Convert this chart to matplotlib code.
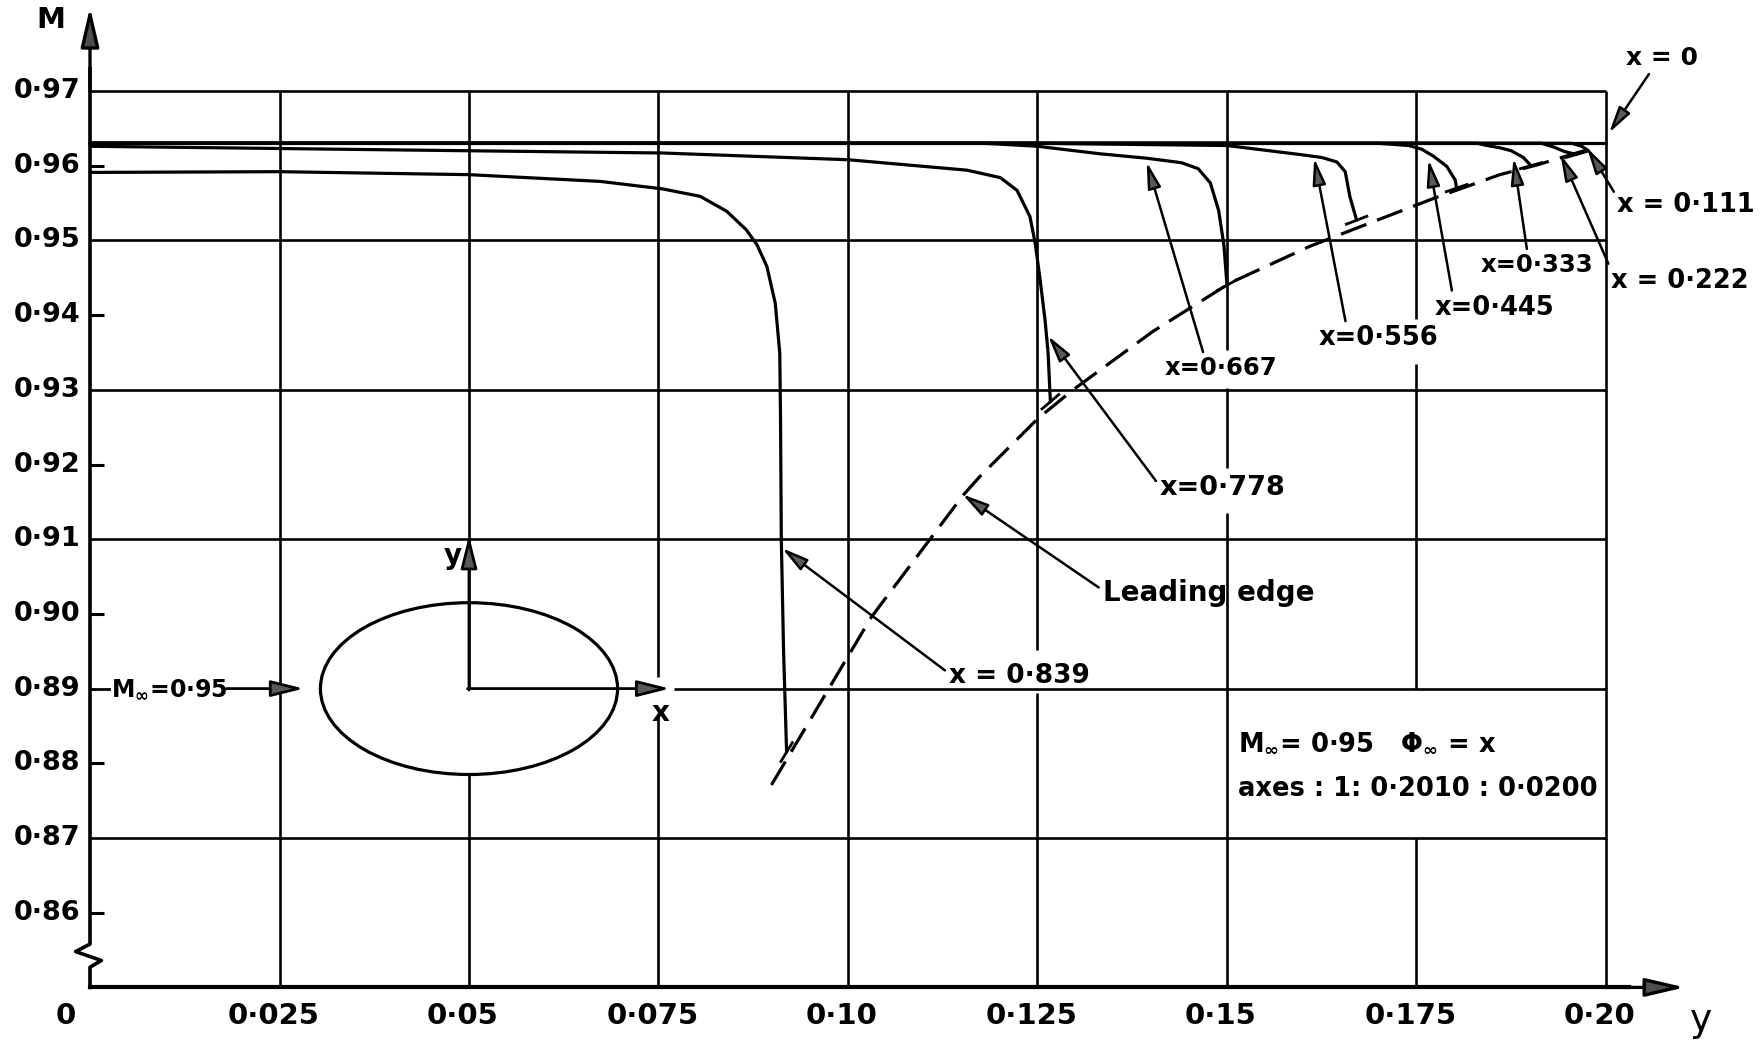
import numpy as np
import matplotlib.pyplot as plt
from matplotlib.patches import Ellipse

plt.rcParams['font.family'] = ['DejaVu Sans']
plt.rcParams['font.weight'] = 'bold'
plt.rcParams['mathtext.fontset'] = 'dejavusans'
plt.rcParams['mathtext.default'] = 'bf'

# ---- values ----
y_ticks = [0.025, 0.05, 0.075, 0.10, 0.125, 0.15, 0.175, 0.20]
y_tick_labels = ['0·025', '0·05', '0·075', '0·10', '0·125', '0·15', '0·175', '0·20']
m_ticks = [0.97, 0.96, 0.95, 0.94, 0.93, 0.92, 0.91, 0.90, 0.89, 0.88, 0.87, 0.86]
m_tick_labels = ['0·97', '0·96', '0·95', '0·94', '0·93', '0·92', '0·91', '0·90',
                 '0·89', '0·88', '0·87', '0·86']
grid_m = [0.97, 0.95, 0.93, 0.91, 0.89, 0.87]
short_m = [0.96, 0.94, 0.92, 0.90, 0.88, 0.86]

# M against y at each station x
y_0 = [0.0, 0.20]
m_0 = [0.9630, 0.9630]
y_111 = [0.0, 0.1955, 0.1968, 0.1977]
m_111 = [0.9630, 0.9630, 0.9626, 0.9620]
y_222 = [0.0, 0.1915, 0.1931, 0.1945, 0.1961]
m_222 = [0.9630, 0.9630, 0.9625, 0.9619, 0.9615]
y_333 = [0.0, 0.1830, 0.1843, 0.1860, 0.1875, 0.1891, 0.1901]
m_333 = [0.9630, 0.9630, 0.9627, 0.9624, 0.9620, 0.9611, 0.9600]
y_445 = [0.0, 0.1700, 0.1740, 0.1757, 0.1772, 0.1790, 0.1801, 0.1803]
m_445 = [0.9630, 0.9630, 0.9627, 0.9622, 0.9613, 0.9599, 0.9581, 0.9570]
y_556 = [0.0, 0.125, 0.150, 0.1596, 0.1625, 0.1645, 0.1656, 0.1662, 0.1671]
m_556 = [0.9630, 0.9630, 0.9627, 0.9615, 0.9611, 0.9605, 0.9592, 0.9559, 0.9527]
y_667 = [0.0, 0.118, 0.125, 0.1332, 0.1394, 0.1440, 0.1462, 0.1478, 0.1489, 0.1496, 0.1500]
m_667 = [0.9630, 0.9630, 0.9626, 0.9616, 0.9610, 0.9604, 0.9596, 0.9577, 0.9540, 0.9493, 0.9440]
y_778 = [0.0, 0.025, 0.05, 0.0755, 0.10, 0.1157, 0.1201, 0.1223, 0.1240, 0.1247,
         0.1253, 0.1260, 0.1264, 0.1267]
m_778 = [0.9626, 0.9623, 0.9620, 0.9617, 0.9608, 0.9594, 0.9584, 0.9567, 0.9532, 0.9496,
         0.9451, 0.9393, 0.9349, 0.9284]
y_839 = [0.0, 0.025, 0.05, 0.0673, 0.0755, 0.0805, 0.0840, 0.0866, 0.0880, 0.0893,
         0.0904, 0.0910, 0.0911, 0.0912, 0.0915, 0.0919]
m_839 = [0.9591, 0.9592, 0.9588, 0.9579, 0.9569, 0.9559, 0.9539, 0.9514, 0.9494, 0.9465,
         0.9416, 0.9349, 0.9260, 0.9100, 0.8950, 0.8815]

# leading edge (dashed)
lead_y = [0.0899, 0.1031, 0.1152, 0.1174, 0.1251, 0.1297, 0.1402, 0.1504, 0.1609,
          0.1675, 0.1772, 0.1860, 0.1909, 0.1961, 0.1985]
lead_m = [0.8771, 0.8996, 0.9159, 0.9184, 0.9262, 0.9300, 0.9378, 0.9443, 0.9492,
          0.9518, 0.9556, 0.9588, 0.9601, 0.9617, 0.9624]

PX_Y = 7580.0   # pixels per unit y
PX_M = 7470.0   # pixels per unit M

fig = plt.figure(figsize=(17.65, 10.40), dpi=100)
ax = fig.add_axes([0, 0, 1, 1])
ax.set_xlim(-90 / PX_Y, 1675 / PX_Y)
ax.set_ylim(0.97 - 949 / PX_M, 0.97 + 91 / PX_M)
ax.axis('off')

K = 'black'
GRID = dict(color=K, lw=1.9, solid_capstyle='butt', zorder=1)

# vertical grid, broken where the labels and the inset sit
vgaps = {0.05: [(0.8785, 0.89)],
         0.075: [(0.8865, 0.8915)],
         0.125: [(0.8894, 0.8952)],
         0.15: [(0.9135, 0.9195), (0.9302, 0.9353)],
         0.175: [(0.87, 0.89), (0.9335, 0.9395)]}
for yv in y_ticks:
    lo = 0.85
    for a, b in vgaps.get(yv, []):
        ax.plot([yv, yv], [lo, a], **GRID)
        lo = b
    ax.plot([yv, yv], [lo, 0.97], **GRID)

for mv in grid_m:
    start = 0.077 if mv == 0.89 else 0.0
    ax.plot([start, 0.20], [mv, mv], **GRID)
for mv in short_m:
    ax.plot([0, 0.0018], [mv, mv], color=K, lw=2.2, solid_capstyle='butt')

# axes with the break on M
brk = [(0, 0.8500), (0, 0.8527), (0.0015, 0.8536), (-0.0019, 0.8548), (0, 0.8558), (0, 0.973)]
ax.plot([p[0] for p in brk], [p[1] for p in brk], color=K, lw=2.6, zorder=3)
ax.plot([0, 0.203], [0.85, 0.85], color=K, lw=3.0, zorder=3)
head = dict(arrowstyle='-|>,head_length=1.2,head_width=0.28', color=K, fc='0.3',
            lw=2.4, mutation_scale=20, shrinkA=0, shrinkB=0)
ax.annotate('', xy=(0, 0.9812), xytext=(0, 0.970), arrowprops=head, zorder=3)
ax.annotate('', xy=(0.2104, 0.85), xytext=(0.200, 0.85), arrowprops=head, zorder=3)

for mv, lab in zip(m_ticks, m_tick_labels):
    ax.text(-0.0013, mv, lab, ha='right', va='center', fontsize=19.5)
for yv, lab in zip(y_ticks, y_tick_labels):
    ax.text(yv - 0.0008, 0.8462, lab, ha='center', va='center', fontsize=21)
ax.text(-0.0032, 0.8462, '0', ha='center', va='center', fontsize=21)
ax.text(-0.0052, 0.9795, 'M', ha='center', va='center', fontsize=21)
ax.text(0.2125, 0.8455, 'y', ha='center', va='center', fontsize=27, fontweight='normal')

# curves
LINE = dict(color=K, lw=2.3, solid_joinstyle='round', solid_capstyle='round', zorder=4)
curves = [(y_0, m_0), (y_111, m_111), (y_222, m_222), (y_333, m_333), (y_445, m_445),
          (y_556, m_556), (y_667, m_667), (y_778, m_778), (y_839, m_839)]
for ys, ms in curves:
    ax.plot(ys, ms, **LINE)

ax.plot(lead_y, lead_m, color=K, lw=2.3, dashes=(8.5, 3.6), zorder=4)

# short bars where each curve meets the leading edge
slopes = np.gradient(lead_m, lead_y)
for ys, ms in curves[2:]:
    y0, m0 = ys[-1], ms[-1]
    s = np.interp(y0, lead_y, slopes)
    d = 11 / (PX_Y * np.hypot(1, s * PX_M / PX_Y))
    ax.plot([y0 - d, y0 + d], [m0 - s * d, m0 + s * d], color=K, lw=2.0, zorder=4)

# labels with pointers
ARW = dict(arrowstyle='-|>,head_length=0.8,head_width=0.2', color=K, fc='0.35', lw=1.8,
           mutation_scale=20, shrinkA=1, shrinkB=0)
notes = [('x = 0', (0.2004, 0.9644), (0.2027, 0.9744), (0.35, 0.0), 18),
         ('x = 0·111', (0.1975, 0.9624), (0.2015, 0.9547), (0.0, 0.8), 18.5),
         ('x = 0·222', (0.1940, 0.9615), (0.2007, 0.9446), (0.0, 0.9), 18.5),
         ('x=0·333', (0.1878, 0.9610), (0.1834, 0.9467), (0.42, 1.0), 17.5),
         ('x=0·445', (0.1766, 0.9608), (0.1774, 0.9410), (0.15, 1.0), 18.5),
         ('x=0·556', (0.1615, 0.9610), (0.1621, 0.9369), (0.23, 1.0), 18.5),
         ('x=0·667', (0.1394, 0.9605), (0.1418, 0.9329), (0.35, 1.0), 17.5),
         ('x=0·778', (0.1264, 0.9372), (0.1411, 0.9168), (0.0, 0.6), 19.5),
         ('Leading edge', (0.1151, 0.9160), (0.1336, 0.9028), (0.0, 0.6), 20),
         ('x = 0·839', (0.0913, 0.9088), (0.1133, 0.8917), (0.0, 0.6), 19)]
for txt, tip, pos, rel, size in notes:
    arw = dict(ARW, relpos=rel)
    ax.annotate(txt, xy=tip, xytext=pos, ha='left', va='center', fontsize=size,
                arrowprops=arw, zorder=5)

ax.text(0.1514, 0.8826, r'M$_\infty$= 0·95   $\Phi_\infty$ = x', ha='left', va='center',
        fontsize=18.5)
ax.text(0.1514, 0.8766, 'axes : 1: 0·2010 : 0·0200', ha='left', va='center', fontsize=18.5)

# inset: the body and its axes
ax.add_patch(Ellipse((0.05, 0.89), 0.0392, 0.0230, fill=False, ec=K, lw=2.3, zorder=4))
INS = dict(arrowstyle='-|>,head_length=1.0,head_width=0.25', color=K, fc='0.35', lw=2.0,
           mutation_scale=20, shrinkA=0, shrinkB=0)
ax.annotate('', xy=(0.05, 0.9105), xytext=(0.05, 0.8898), arrowprops=INS, zorder=4)
ax.annotate('', xy=(0.0765, 0.89), xytext=(0.0498, 0.89), arrowprops=INS, zorder=4)
ax.text(0.0478, 0.9077, 'y', ha='center', va='center', fontsize=20)
ax.text(0.0752, 0.8868, 'x', ha='center', va='center', fontsize=20)
ax.plot([0, 0.0025], [0.89, 0.89], color=K, lw=2.0)
ax.text(0.0028, 0.89, r'M$_\infty$=0·95', ha='left', va='center', fontsize=17)
ax.annotate('', xy=(0.0282, 0.89), xytext=(0.0180, 0.89), arrowprops=INS, zorder=4)

fig.savefig('out.png', dpi=100, facecolor='white')
